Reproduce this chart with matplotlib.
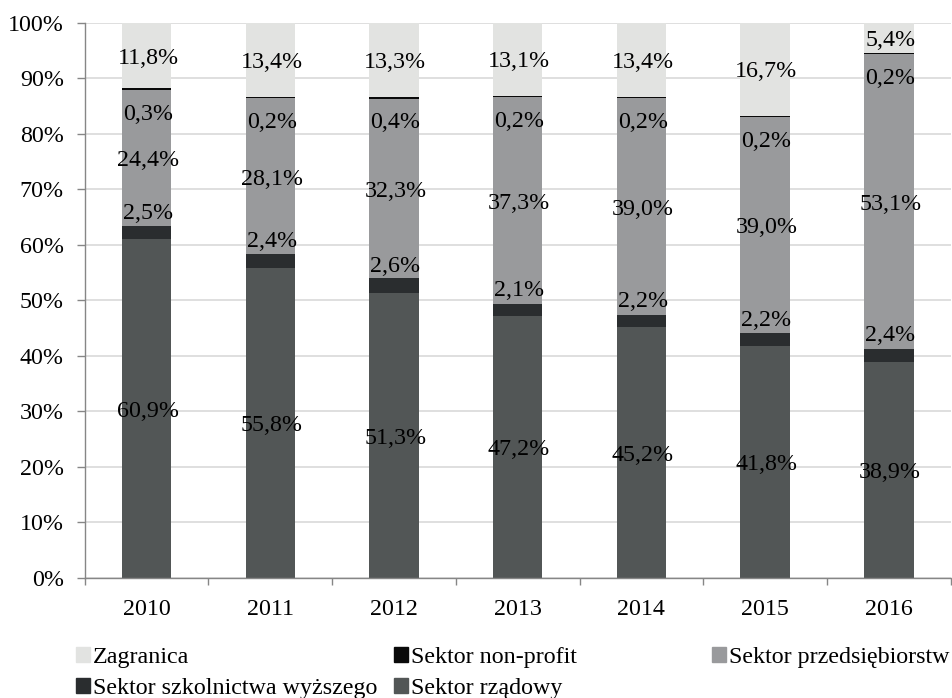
import matplotlib
matplotlib.use('Agg')
import matplotlib.pyplot as plt
import numpy as np
from matplotlib.patches import Patch

plt.rcParams['font.family'] = ['Liberation Serif', 'DejaVu Serif']

years = ['2010', '2011', '2012', '2013', '2014', '2015', '2016']
# shares in %, bottom to top of the stack
rzadowy = [60.9, 55.8, 51.3, 47.2, 45.2, 41.8, 38.9]
szkolnictwa = [2.5, 2.4, 2.6, 2.1, 2.2, 2.2, 2.4]
przedsiebiorstw = [24.4, 28.1, 32.3, 37.3, 39.0, 39.0, 53.1]
non_profit = [0.3, 0.2, 0.4, 0.2, 0.2, 0.2, 0.2]
zagranica = [11.8, 13.4, 13.3, 13.1, 13.4, 16.7, 5.4]

series = [
    ('Sektor rządowy', rzadowy, '#525656'),
    ('Sektor szkolnictwa wyższego', szkolnictwa, '#2a2d2f'),
    ('Sektor przedsiębiorstw', przedsiebiorstw, '#999a9c'),
    ('Sektor non-profit', non_profit, '#0a0a0a'),
    ('Zagranica', zagranica, '#e2e3e1'),
]
# small segments have their labels pushed away (points)
label_shift = {'Sektor szkolnictwa wyższego': 16, 'Sektor non-profit': -16}
FS = 17.3

fig = plt.figure(figsize=(9.53, 6.98), dpi=100)
ax = fig.add_axes([0.0889, 0.1719, 0.9086, 0.7956])

x = np.arange(len(years))
totals = np.sum([s[1] for s in series], axis=0)
bottom = np.zeros(len(years))
handles = {}
for name, vals, col in series:
    vals = np.array(vals)
    h = vals / totals * 100
    ax.bar(x, h, 0.4, bottom=bottom, color=col, zorder=3, label=name)
    handles[name] = Patch(color=col)
    for xi, yc, v in zip(x, bottom + h / 2, vals):
        ax.annotate(('%.1f%%' % v).replace('.', ','), (xi, yc),
                    xytext=(1, label_shift.get(name, 0) - 2), textcoords='offset points',
                    ha='center', va='center', fontsize=FS, zorder=5)
    bottom += h

ax.set_xlim(-0.5, len(years) - 0.5)
ax.set_ylim(0, 100)
ax.set_yticks(np.arange(0, 101, 10))
ax.set_yticklabels(['%d%%' % v for v in range(0, 101, 10)], fontsize=FS)
ax.set_xticks(x)
ax.set_xticklabels(years, fontsize=FS)
ax.set_xticks(np.arange(-0.5, len(years), 1), minor=True)
ax.tick_params(axis='x', which='major', length=0, pad=15)
ax.tick_params(axis='x', which='minor', length=5, color='#868686', width=1)
ax.tick_params(axis='y', length=6, color='#868686', width=1, pad=9)
ax.yaxis.grid(True, color='#d9d9d9', lw=1.2, zorder=0)
ax.set_axisbelow(True)
for s in ['top', 'right']:
    ax.spines[s].set_visible(False)
for s in ['left', 'bottom']:
    ax.spines[s].set_color('#868686')
    ax.spines[s].set_linewidth(1)
    ax.spines[s].set_zorder(4)

# legend laid out in three fixed columns like the original
columns = [['Zagranica', 'Sektor szkolnictwa wyższego'],
           ['Sektor non-profit', 'Sektor rządowy'],
           ['Sektor przedsiębiorstw']]
col_x = [76, 394, 712]
for names, cx in zip(columns, col_x):
    fig.legend([handles[n] for n in names], names,
               loc='upper left', bbox_to_anchor=(cx / 953, 1 - 647 / 698),
               frameon=False, fontsize=FS, handlelength=0.6, handleheight=0.6,
               handletextpad=0.12, borderpad=0, borderaxespad=0, labelspacing=0.4)

plt.savefig('out.png', dpi=100)
